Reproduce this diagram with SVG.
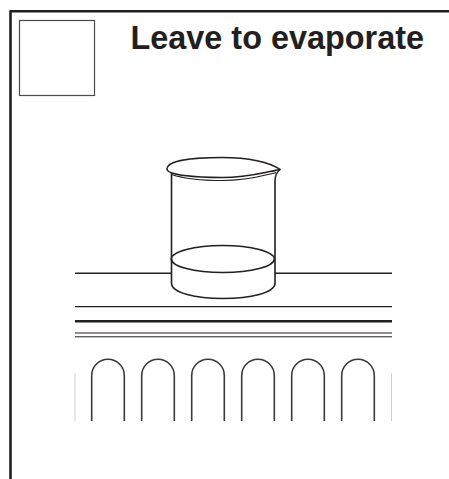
<svg xmlns="http://www.w3.org/2000/svg" width="449" height="479" viewBox="0 0 449 479">
  <style>
    .ink { fill: none; stroke: #231f20; stroke-linecap: butt; stroke-linejoin: round; }
    .thin { stroke-width: 1.2; }
    .mid { stroke-width: 1.6; }
    .arch { fill: none; stroke: #3a3a3a; stroke-width: 1.6; }
    .faint { stroke: #cfcfcf; stroke-width: 1; }
    .title { font-family: "Liberation Sans", Arial, Helvetica, sans-serif; font-weight: bold; font-size: 32.4px; fill: #231f20; }
  </style>
  <rect width="449" height="479" fill="#ffffff"/>

  <!-- panel frame -->
  <g id="frame">
    <path class="ink" stroke-width="2.6" d="M10.5,479 L10.5,11.3 L449,11.3"/>
  </g>

  <!-- empty tick box -->
  <g id="checkbox">
    <rect x="19.5" y="20.5" width="75" height="75" fill="#ffffff" stroke="#4a4a4a" stroke-width="1.2"/>
  </g>

  <g id="title">
    <text class="title" x="130.5" y="49">Leave to evaporate</text>
  </g>

  <!-- windowsill / shelf lines -->
  <g id="shelf">
    <line class="ink mid" x1="75" y1="273.3" x2="171.5" y2="273.3"/>
    <line class="ink mid" x1="275" y1="273.3" x2="392" y2="273.3"/>
    <line class="ink thin" x1="75" y1="306.7" x2="392" y2="306.7"/>
    <line class="ink" stroke-width="2.6" x1="75" y1="321.3" x2="392" y2="321.3"/>
    <line class="ink" stroke="#444" stroke-width="1" x1="75" y1="333" x2="392" y2="333"/>
    <line class="ink" stroke="#444" stroke-width="1" x1="75" y1="336.8" x2="392" y2="336.8"/>
  </g>

  <!-- radiator fins -->
  <g id="radiator">
    <line class="faint" x1="75" y1="373" x2="75" y2="421"/>
    <line class="faint" x1="391.5" y1="373" x2="391.5" y2="421"/>
    <path class="arch" d="M91.7,421 V375.5 A16.3,16.3 0 0 1 124.3,375.5 V421"/>
    <path class="arch" d="M141.7,421 V375.5 A16.3,16.3 0 0 1 174.3,375.5 V421"/>
    <path class="arch" d="M191.7,421 V375.5 A16.3,16.3 0 0 1 224.3,375.5 V421"/>
    <path class="arch" d="M241.7,421 V375.5 A16.3,16.3 0 0 1 274.3,375.5 V421"/>
    <path class="arch" d="M291.7,421 V375.5 A16.3,16.3 0 0 1 324.3,375.5 V421"/>
    <path class="arch" d="M341.7,421 V375.5 A16.3,16.3 0 0 1 374.3,375.5 V421"/>
  </g>

  <!-- beaker with liquid -->
  <g id="beaker">
    <path d="M171.5,176 V283 C171.5,293 196,298.5 223,298.5 C250,298.5 275,293 275,283 V181 C275,176 277,172 280,169.5 C270,162 248,157.5 222,157.5 C190,157.5 167,161 167,169 C167,172 169,174.5 171.5,176 Z" fill="#ffffff" stroke="none"/>
    <!-- rim outline with spout -->
    <path class="ink mid" d="M280,169.5 C270,162 248,157.5 222,157.5 C190,157.5 167,161 167,169 C167,175 195,177.5 222,177.5 C245,177.5 262,173 270,171.5 C274,170.8 277,170 280,169.5 Z"/>
    <!-- lip thickness -->
    <path class="ink thin" d="M171.5,174.5 C185,179 203,180.5 222,180.5 C244,180.5 260,176.5 268,174.5 C272,173.5 274.5,173 276,172.6"/>
    <!-- walls and base -->
    <path class="ink mid" d="M171.5,173 V283 C171.5,293 196,298.5 223,298.5 C250,298.5 275,293 275,283 V181 C275,176 277,172 280,169.5"/>
    <!-- liquid surface -->
    <ellipse class="ink mid" cx="222.8" cy="259" rx="51.5" ry="13.5"/>
  </g>
</svg>
